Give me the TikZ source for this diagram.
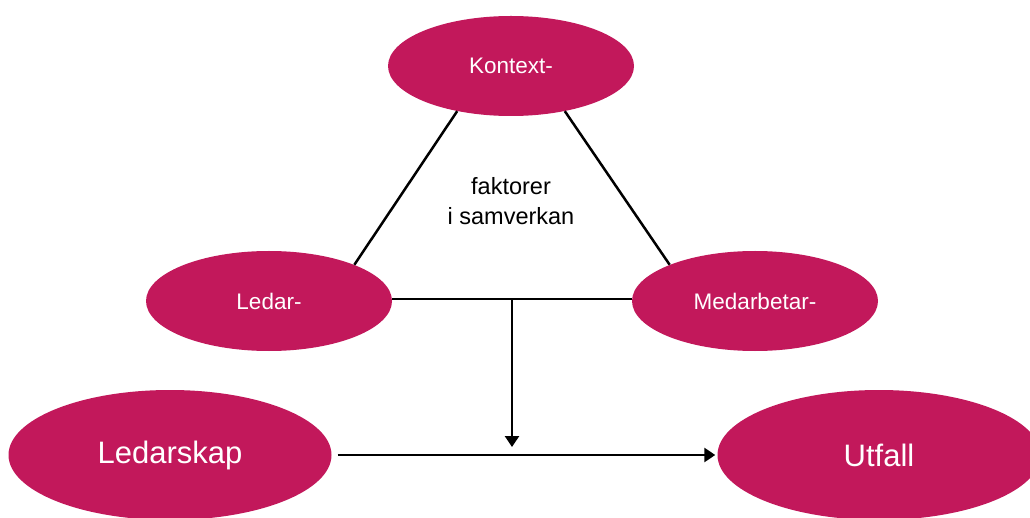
\documentclass[tikz,border=0pt]{standalone}
\usepackage{fontspec}
\setmainfont{Liberation Sans}
\usetikzlibrary{shapes.geometric,arrows.meta}
\definecolor{berry}{HTML}{C2185B}

\begin{document}
\begin{tikzpicture}[x=1pt,y=-1pt,
			factor node/.style={ellipse,fill=berry,text=white,inner sep=0pt,minimum width=246pt,minimum height=100pt,font=\fontsize{22.5}{27}\selectfont},
			big node/.style={ellipse,fill=berry,text=white,inner sep=0pt,minimum width=323pt,minimum height=130pt,font=\fontsize{31}{37}\selectfont},
			link/.style={line width=2.5pt},
			flow/.style={line width=2.5pt,-{Triangle[width=14pt,length=11pt]}}
			]
			
			\useasboundingbox (0,0) rectangle (1030,518);
			
			\node[factor node] (K) at (511,66) {Kontext-};
			\node[factor node] (L) at (269,301) {Ledar-};
			\node[factor node] (M) at (755,301) {Medarbetar-};
			\node[align=center,font=\fontsize{23.5}{30}\selectfont] (F) at (511,201) {faktorer\\i samverkan};
			
			\node[big node] (LS) at (170,455) {Ledarskap};
			\node[big node] (U) at (879,455) {Utfall};
			
			\coordinate (split) at (512,299);
			\coordinate (drop) at (512,447);
			
			\draw[link] (K.220) -- (L.23);
			\draw[link] (K.320) -- (M.157);
			\draw[link] ([yshift=2pt]L.east) -- ([yshift=2pt]M.west);
			\draw[flow] (split) -- (drop);
			\draw[flow,shorten <=6pt,shorten >=2pt] (LS) -- (U);
			\end{tikzpicture}
\end{document}
